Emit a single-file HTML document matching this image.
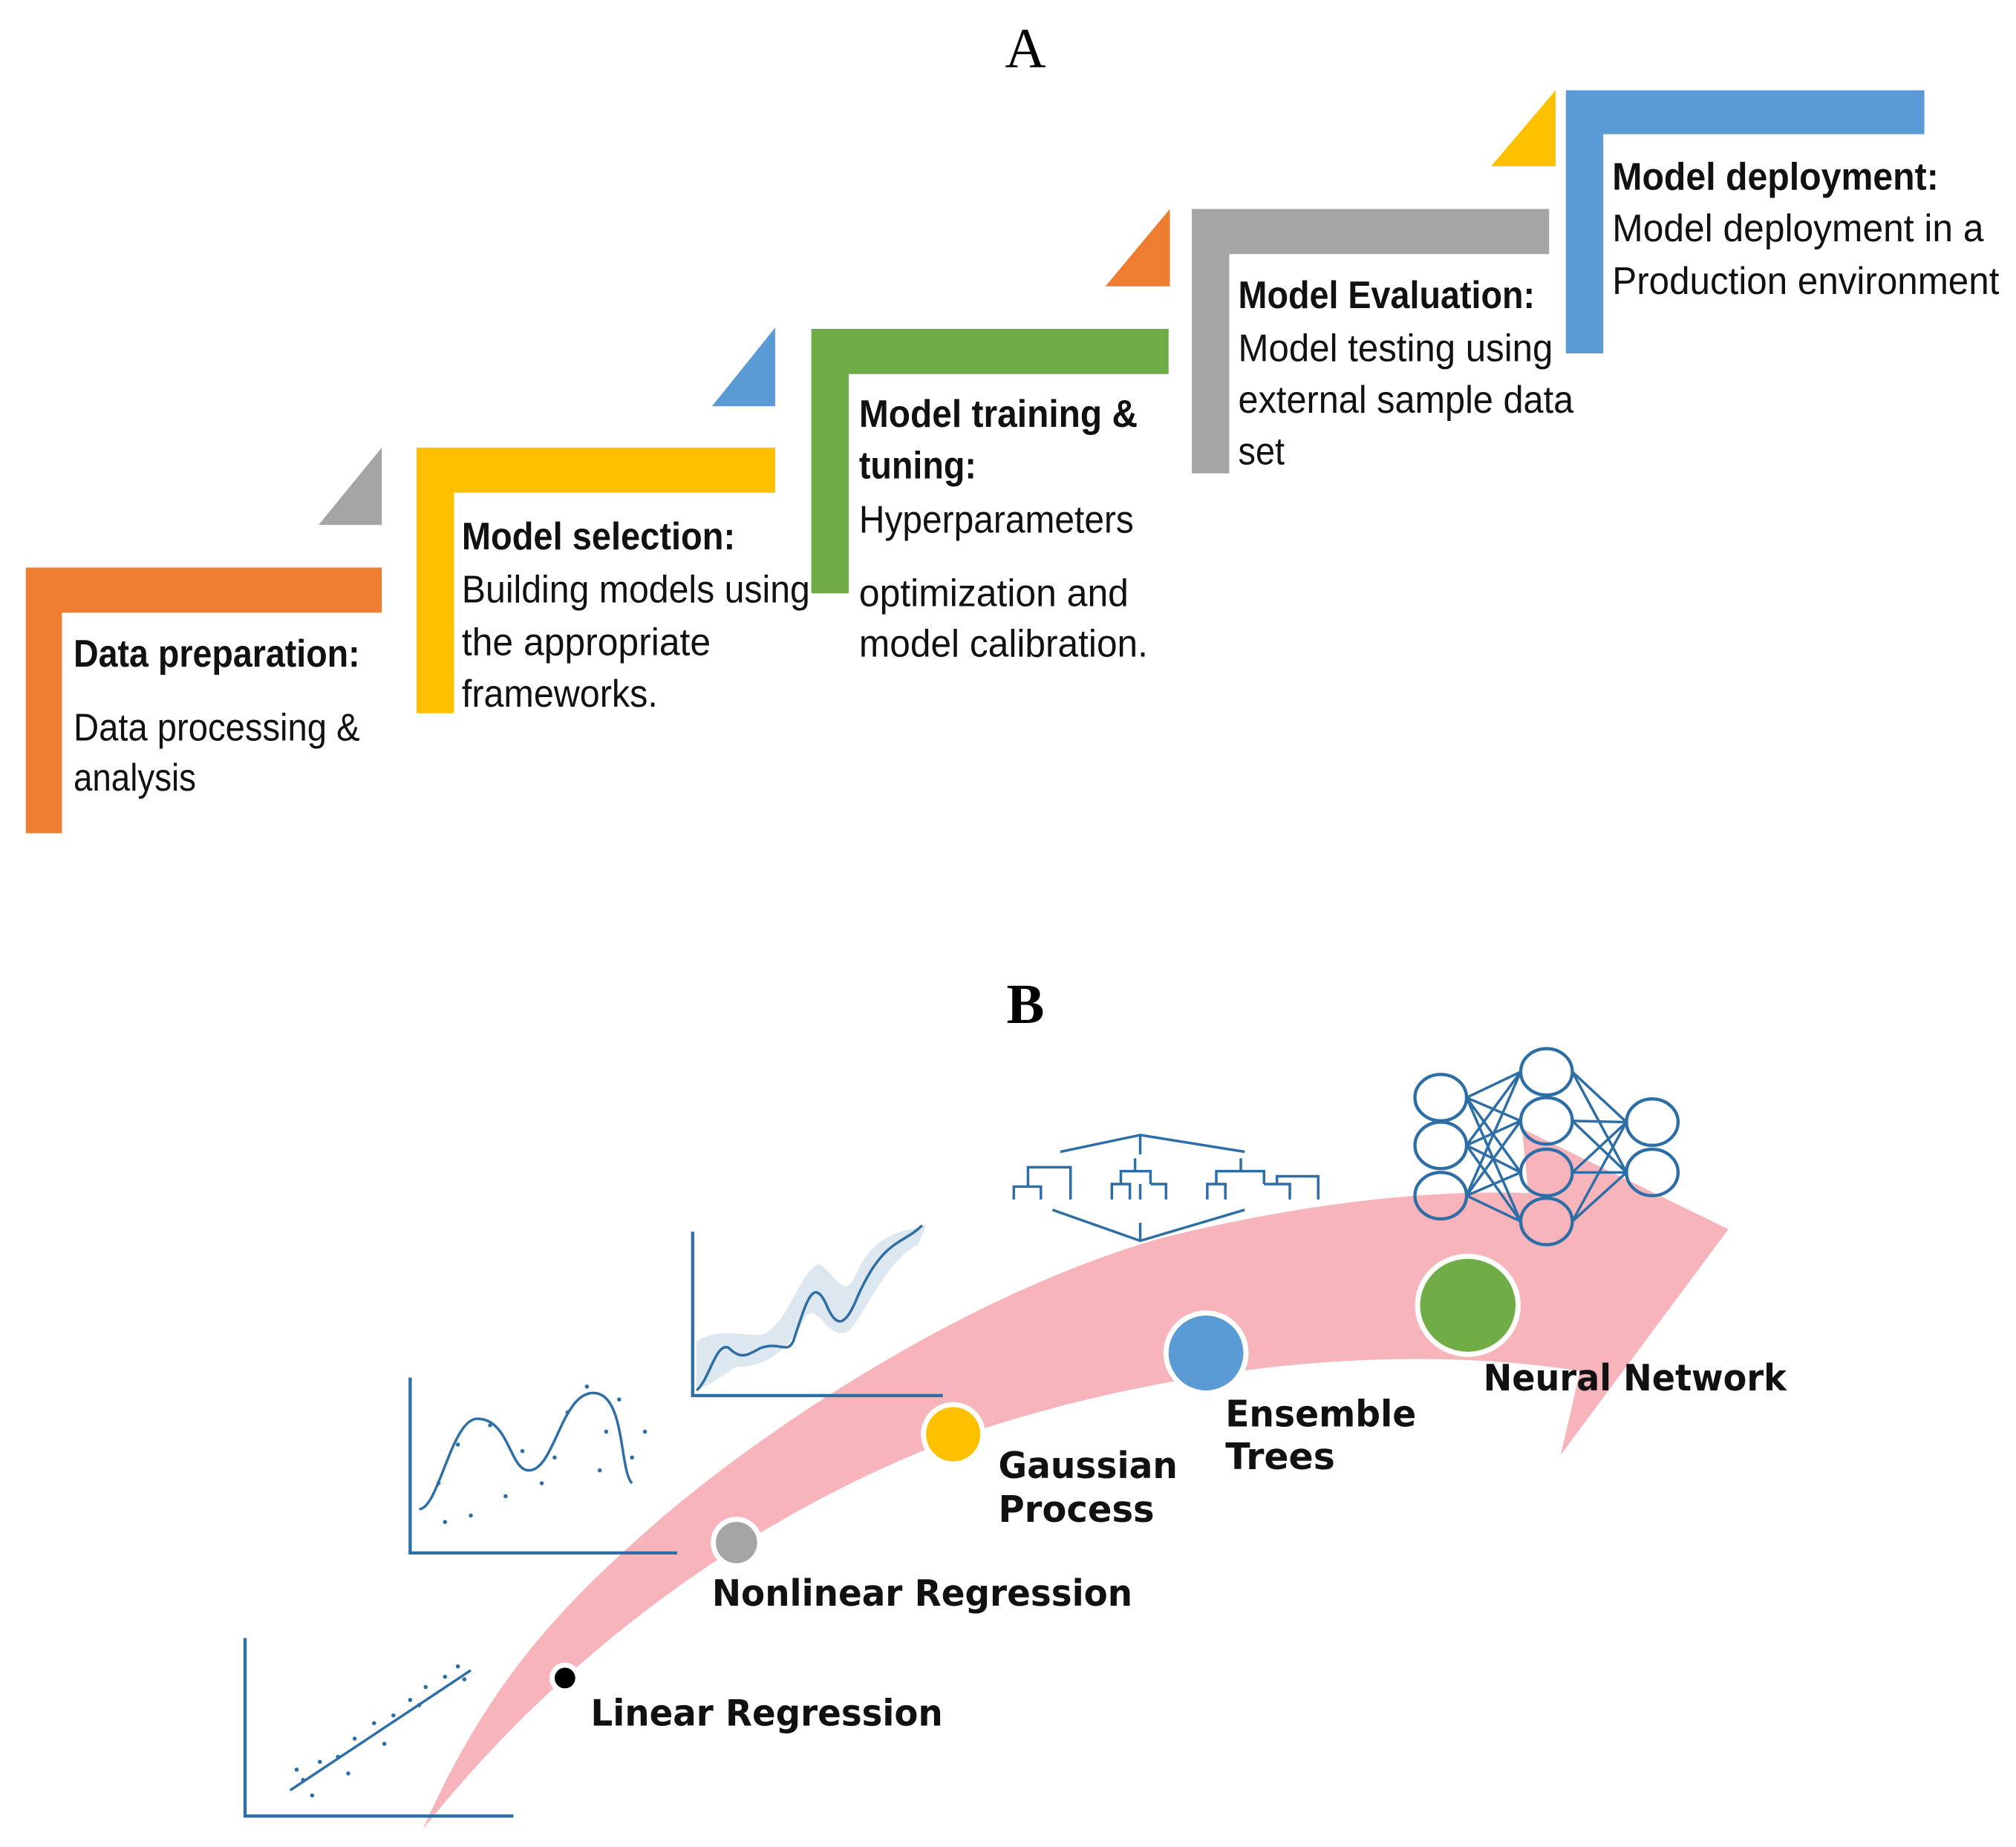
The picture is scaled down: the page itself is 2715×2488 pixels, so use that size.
<!DOCTYPE html>
<html><head><meta charset="utf-8"><style>
html,body{margin:0;padding:0;background:#fff;}
svg{display:block;}
.b{font-family:"Liberation Sans",sans-serif;font-weight:bold;font-size:30px;fill:#111;}
.n{font-family:"Liberation Sans",sans-serif;font-size:30px;fill:#111;}
.l{font-family:"DejaVu Sans",sans-serif;font-weight:bold;font-size:28px;fill:#111;}
</style></head><body>
<svg width="2715" height="2488" viewBox="0 0 1563 1432" preserveAspectRatio="none" xmlns="http://www.w3.org/2000/svg">
<text x="795" y="52" text-anchor="middle" font-family="Liberation Serif,serif" font-size="44">A</text>
<path d="M20 440H296V475H48V646H20Z" fill="#ed7d31"/>
<path d="M296 347V407H247Z" fill="#a5a5a5"/>
<path d="M323 347H601V382H352V553H323Z" fill="#ffc000"/>
<path d="M601 254V315H552Z" fill="#5b9bd5"/>
<path d="M629 255H906V290H658V460H629Z" fill="#70ad47"/>
<path d="M907 162V222H857Z" fill="#ed7d31"/>
<path d="M924 162H1201V197H953V367H924Z" fill="#a5a5a5"/>
<path d="M1206 70V129H1156Z" fill="#ffc000"/>
<path d="M1214 70H1492V104H1243V274H1214Z" fill="#5b9bd5"/>
<text class="b" x="57" y="517" textLength="222" lengthAdjust="spacingAndGlyphs">Data preparation:</text>
<text class="n" x="57" y="574" textLength="222" lengthAdjust="spacingAndGlyphs">Data processing &amp;</text>
<text class="n" x="57" y="613" textLength="95" lengthAdjust="spacingAndGlyphs">analysis</text>
<text class="b" x="358" y="426" textLength="212" lengthAdjust="spacingAndGlyphs">Model selection:</text>
<text class="n" x="358" y="467" textLength="270" lengthAdjust="spacingAndGlyphs">Building models using</text>
<text class="n" x="358" y="508" textLength="193" lengthAdjust="spacingAndGlyphs">the appropriate</text>
<text class="n" x="358" y="548" textLength="152" lengthAdjust="spacingAndGlyphs">frameworks.</text>
<text class="b" x="666" y="331" textLength="216" lengthAdjust="spacingAndGlyphs">Model training &amp;</text>
<text class="b" x="666" y="371" textLength="91" lengthAdjust="spacingAndGlyphs">tuning:</text>
<text class="n" x="666" y="413" textLength="213" lengthAdjust="spacingAndGlyphs">Hyperparameters</text>
<text class="n" x="666" y="470" textLength="209" lengthAdjust="spacingAndGlyphs">optimization and</text>
<text class="n" x="666" y="509" textLength="224" lengthAdjust="spacingAndGlyphs">model calibration.</text>
<text class="b" x="960" y="239" textLength="230" lengthAdjust="spacingAndGlyphs">Model Evaluation:</text>
<text class="n" x="960" y="280" textLength="244" lengthAdjust="spacingAndGlyphs">Model testing using</text>
<text class="n" x="960" y="320" textLength="260" lengthAdjust="spacingAndGlyphs">external sample data</text>
<text class="n" x="960" y="360" textLength="36" lengthAdjust="spacingAndGlyphs">set</text>
<text class="b" x="1250" y="147" textLength="253" lengthAdjust="spacingAndGlyphs">Model deployment:</text>
<text class="n" x="1250" y="187" textLength="288" lengthAdjust="spacingAndGlyphs">Model deployment in a</text>
<text class="n" x="1250" y="228" textLength="300" lengthAdjust="spacingAndGlyphs">Production environment</text>

<text x="795" y="793" text-anchor="middle" font-family="Liberation Serif,serif" font-weight="bold" font-size="44">B</text>
<path d="M328 1418 C380 1300 440 1240 515 1175 C610 1095 760 1000 900 960 C1000 935 1100 922 1185 925 L1180 875 L1340 953 L1210 1128 L1225 1063 C1080 1040 900 1060 740 1115 C570 1180 430 1290 328 1418Z" fill="#f8b4bb"/>
<g stroke="#2e6ea6" fill="none" stroke-width="2.5">
<path d="M190 1270V1408H398"/>
<path d="M225 1388L365 1295" stroke-width="2"/>
<path d="M318 1068V1204H525"/>
<path d="M325 1170C340 1170 350 1100 370 1100C395 1100 395 1140 410 1140C430 1140 435 1080 460 1080C485 1080 480 1140 490 1150" stroke-width="2"/>
<path d="M537 955V1082H731"/>
<path d="M540 1040C555 1030 570 1035 590 1035C610 1030 620 985 635 980C650 990 655 1010 665 985C680 955 700 955 718 950L712 965C690 975 675 1010 660 1030C645 1045 635 1010 625 1020C615 1040 600 1060 570 1060C555 1070 545 1078 540 1075Z" fill="#dde7ef" stroke="none"/>
<path d="M540 1078C550 1070 555 1040 565 1045C575 1055 580 1050 590 1045C605 1040 610 1050 615 1040C625 1010 630 990 640 1010C648 1030 655 1030 665 1005C685 960 700 965 715 950" stroke-width="2"/>
</g>
<g fill="#2e6ea6">
<circle cx="235" cy="1380" r="1.6"/><circle cx="248" cy="1366" r="1.6"/><circle cx="262" cy="1362" r="1.6"/><circle cx="275" cy="1348" r="1.6"/><circle cx="290" cy="1336" r="1.6"/><circle cx="305" cy="1330" r="1.6"/><circle cx="318" cy="1318" r="1.6"/><circle cx="330" cy="1308" r="1.6"/><circle cx="345" cy="1300" r="1.6"/><circle cx="355" cy="1292" r="1.6"/><circle cx="242" cy="1392" r="1.6"/><circle cx="270" cy="1375" r="1.6"/><circle cx="298" cy="1352" r="1.6"/><circle cx="325" cy="1322" r="1.6"/><circle cx="360" cy="1302" r="1.6"/><circle cx="230" cy="1372" r="1.6"/>
<circle cx="340" cy="1150" r="1.6"/><circle cx="355" cy="1120" r="1.6"/><circle cx="365" cy="1175" r="1.6"/><circle cx="380" cy="1105" r="1.6"/><circle cx="392" cy="1160" r="1.6"/><circle cx="405" cy="1125" r="1.6"/><circle cx="420" cy="1150" r="1.6"/><circle cx="440" cy="1095" r="1.6"/><circle cx="455" cy="1075" r="1.6"/><circle cx="470" cy="1110" r="1.6"/><circle cx="480" cy="1085" r="1.6"/><circle cx="490" cy="1130" r="1.6"/><circle cx="500" cy="1110" r="1.6"/><circle cx="345" cy="1180" r="1.6"/><circle cx="430" cy="1130" r="1.6"/><circle cx="465" cy="1140" r="1.6"/>
</g>
<g stroke="#2e6ea6" fill="none" stroke-width="2">
<path d="M822 893L884 880L965 893M884 880V895M816 938L884 962L965 938M884 948V962"/>
<path d="M786 930V920H807V930M797 920V905H830V920M830 905V930"/>
<path d="M862 930V918H876V930M869 918V908H892V918M884 918V930M892 918H904V930M880 908V898"/>
<path d="M936 930V918H950V930M943 918V908H980V918M980 918H1000V930M990 918V912H1022V930M962 908V898"/>
</g>
<g stroke="#2e6ea6" fill="none" stroke-width="2">
<path d="M1137 851L1179 831M1137 851L1179 869M1137 851L1179 909M1137 851L1179 947M1137 888L1179 831M1137 888L1179 869M1137 888L1179 909M1137 888L1179 947M1137 927L1179 831M1137 927L1179 869M1137 927L1179 909M1137 927L1179 947"/>
<path d="M1219 831L1261 870M1219 831L1261 909M1219 869L1261 870M1219 869L1261 909M1219 909L1261 870M1219 909L1261 909M1219 947L1261 870M1219 947L1261 909"/>
<g stroke-width="2.5">
<ellipse cx="1117" cy="851" rx="20" ry="18"/><ellipse cx="1117" cy="888" rx="20" ry="18"/><ellipse cx="1117" cy="927" rx="20" ry="18"/>
<ellipse cx="1199" cy="831" rx="20" ry="18"/><ellipse cx="1199" cy="869" rx="20" ry="18"/><ellipse cx="1199" cy="909" rx="20" ry="18"/><ellipse cx="1199" cy="947" rx="20" ry="18"/>
<ellipse cx="1281" cy="870" rx="20" ry="18"/><ellipse cx="1281" cy="909" rx="20" ry="18"/>
</g></g>
<g stroke="#fff" stroke-width="4">
<circle cx="438" cy="1301" r="10" fill="#000"/>
<circle cx="571" cy="1196" r="18" fill="#a5a5a5"/>
<circle cx="739" cy="1112" r="23" fill="#ffc000"/>
<ellipse cx="935" cy="1049" rx="31" ry="31" fill="#5b9bd5"/>
<ellipse cx="1138" cy="1012" rx="39" ry="38" fill="#70ad47"/>
</g>
<text class="l" x="458" y="1338" textLength="273" lengthAdjust="spacingAndGlyphs">Linear Regression</text>
<text class="l" x="552" y="1245" textLength="326" lengthAdjust="spacingAndGlyphs">Nonlinear Regression</text>
<text class="l" x="774" y="1146" textLength="139" lengthAdjust="spacingAndGlyphs">Gaussian</text>
<text class="l" x="774" y="1180" textLength="121" lengthAdjust="spacingAndGlyphs">Process</text>
<text class="l" x="950" y="1106" textLength="148" lengthAdjust="spacingAndGlyphs">Ensemble</text>
<text class="l" x="950" y="1139" textLength="85" lengthAdjust="spacingAndGlyphs">Trees</text>
<text class="l" x="1150" y="1078" textLength="235" lengthAdjust="spacingAndGlyphs">Neural Network</text>
</svg>
</body></html>
